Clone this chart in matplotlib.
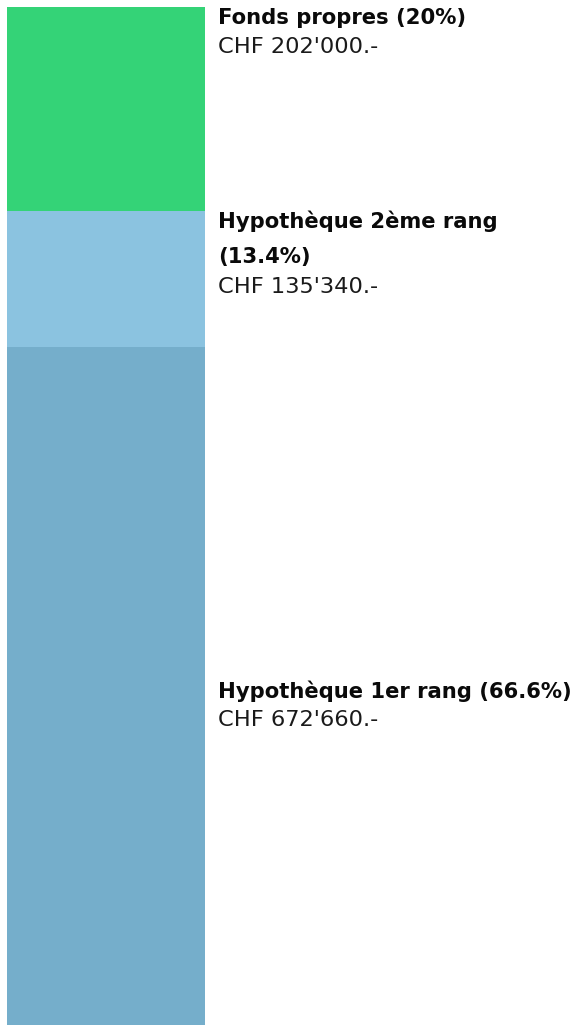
import matplotlib
matplotlib.use("Agg")
import matplotlib.pyplot as plt
from matplotlib.transforms import blended_transform_factory, offset_copy

categories = ["Hypothèque 1er rang", "Hypothèque 2ème rang", "Fonds propres"]
values = [672660, 135340, 202000]
percents = ["66.6%", "13.4%", "20%"]
amounts = ["CHF 672'660.-", "CHF 135'340.-", "CHF 202'000.-"]
colors = ["#75AECB", "#8BC3E0", "#34D377"]

W, H = 575, 1025
fig = plt.figure(figsize=(W / 100, H / 100), dpi=100)
ax = fig.add_axes([7 / W, 0, (205 - 7) / W, (H - 7) / H])
total = sum(values)
bottom = 0
bounds = []
for v, c in zip(values, colors):
    ax.bar(0, v, bottom=bottom, width=1.0, color=c, linewidth=0)
    bounds.append((bottom, bottom + v))
    bottom += v
ax.set_xlim(-0.5, 0.5)
ax.set_ylim(0, total)
ax.axis("off")

font = "DejaVu Sans"
bsize = 15.2
rsize = 16.2
trans = blended_transform_factory(fig.transFigure, ax.transData)
x0 = 218 / W

def put(y, dy_px, s, weight):
    t = offset_copy(trans, fig=fig, x=0, y=-dy_px * 72 / 100, units="points")
    ax.text(x0, y, s, transform=t, fontsize=bsize if weight == "bold" else rsize,
            fontweight=weight, family=font, color="#0a0a0a" if weight == "bold" else "#1a1a1a",
            va="center", ha="left", clip_on=False)

# Fonds propres (top segment)
top_g = bounds[2][1]
put(top_g, 11, f"{categories[2]} ({percents[2]})", "bold")
put(top_g, 40, amounts[2], "normal")
# Hypotheque 2eme rang
top_l = bounds[1][1]
put(top_l, 11, categories[1], "bold")
put(top_l, 46, f"({percents[1]})", "bold")
put(top_l, 76, amounts[1], "normal")
# Hypotheque 1er rang (centered in segment)
mid_d = (bounds[0][0] + bounds[0][1]) / 2
put(mid_d, 5, f"{categories[0]} ({percents[0]})", "bold")
put(mid_d, 34, amounts[0], "normal")

fig.savefig("out.png", dpi=100)
